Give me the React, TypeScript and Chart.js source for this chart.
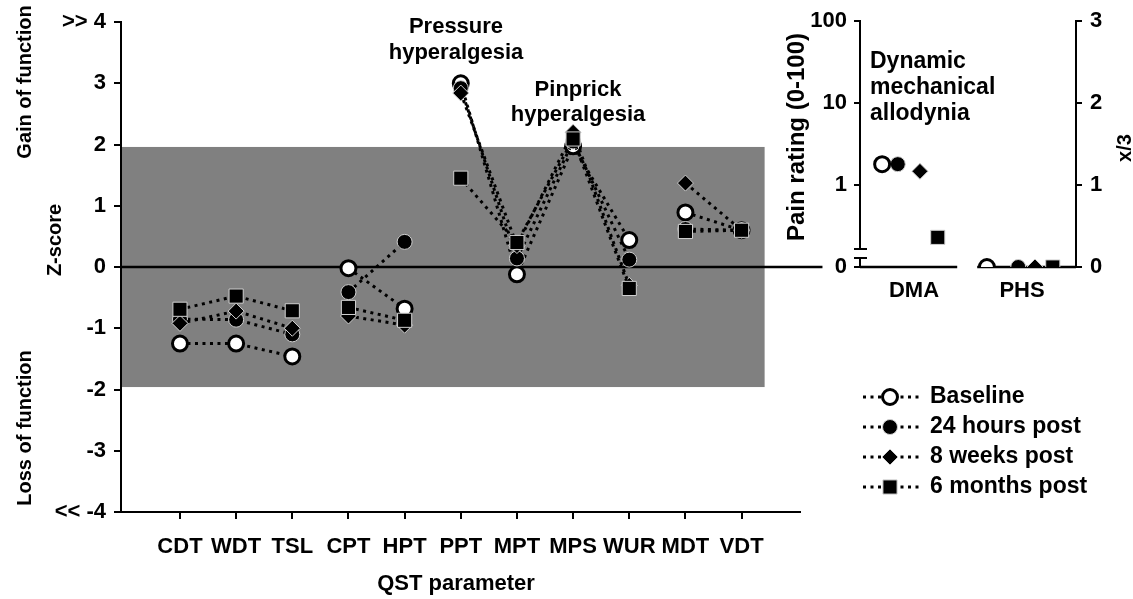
import React, { useEffect, useRef } from 'react';
import { Chart, registerables } from 'chart.js';

Chart.register(...registerables);

// ---------------- data ----------------
const groups = [
  ['CDT', 'WDT', 'TSL'],
  ['CPT', 'HPT'],
  ['PPT', 'MPT', 'MPS', 'WUR'],
  ['MDT', 'VDT'],
];
const categories = groups.flat();

const seriesNames = ['Baseline', '24 hours post', '8 weeks post', '6 months post'];

const baseline = [-1.25, -1.25, -1.46, -0.02, -0.68, 3.0, -0.12, 1.97, 0.44, 0.89, 0.6];
const hours24 = [-0.85, -0.86, -1.1, -0.41, 0.41, 2.92, 0.14, 2.05, 0.12, 0.62, 0.6];
const weeks8 = [-0.92, -0.72, -1.0, -0.8, -0.95, 2.84, 0.35, 2.2, -0.3, 1.37, 0.6];
const months6 = [-0.69, -0.475, -0.715, -0.66, -0.87, 1.45, 0.4, 2.09, -0.35, 0.58, 0.6];
const zSeries = [baseline, hours24, weeks8, months6];

const zTicks = [-4, -3, -2, -1, 0, 1, 2, 3, 4];
const zTickLabels = ['<< -4', '-3', '-2', '-1', '0', '1', '2', '3', '>> 4'];
const normalLimit = 1.96;

const panelCategories = ['DMA', 'PHS'];
const dmaRating = [1.8, 1.8, 1.47, 0.23]; // pain rating (0-100), log axis
const phsRatio = [0, 0, 0, 0]; // x/3
const ratingTicks = [0.1, 1, 10, 100];
const ratingTickLabels = ['0', '1', '10', '100'];
const ratioTicks = [0, 1, 2, 3];

// ---------------- layout / style ----------------
const FONT = "'Liberation Sans', Arial, Helvetica, sans-serif";
const W = 1133;
const H = 599;
const GRAY = '#808080';

const markerStyles = [
  { pointStyle: 'circle', pointRadius: 7.5, pointBackgroundColor: '#fff', pointBorderColor: '#000', pointBorderWidth: 3 },
  { pointStyle: 'circle', pointRadius: 7.5, pointBackgroundColor: '#000', pointBorderColor: '#d0d0d0', pointBorderWidth: 1 },
  { pointStyle: 'rectRot', pointRadius: 8, pointBackgroundColor: '#000', pointBorderColor: '#d0d0d0', pointBorderWidth: 1 },
  { pointStyle: 'rect', pointRadius: 10, pointBackgroundColor: '#000', pointBorderColor: '#d0d0d0', pointBorderWidth: 1 },
];
const dmaOffsets = [-0.59, -0.3, 0.11, 0.44];
const phsOffsets = [-0.65, -0.07, 0.24, 0.57];

Chart.defaults.font.family = FONT;
Chart.defaults.font.size = 22;
Chart.defaults.font.weight = 'bold';
Chart.defaults.color = '#000';

function drawText(ctx: CanvasRenderingContext2D, text: string, x: number, y: number, opts: any = {}) {
  ctx.save();
  ctx.font = `bold ${opts.size || 22}px ${FONT}`;
  ctx.fillStyle = '#000';
  ctx.textAlign = opts.align || 'center';
  ctx.textBaseline = 'middle';
  ctx.translate(x, y);
  if (opts.rotate) ctx.rotate(-Math.PI / 2);
  ctx.fillText(text, 0, 0);
  ctx.restore();
}

function drawMarker(ctx: CanvasRenderingContext2D, style: any, x: number, y: number) {
  const r = style.pointRadius;
  ctx.save();
  ctx.beginPath();
  if (style.pointStyle === 'circle') {
    ctx.arc(x, y, r, 0, Math.PI * 2);
  } else if (style.pointStyle === 'rectRot') {
    ctx.moveTo(x, y - r);
    ctx.lineTo(x + r, y);
    ctx.lineTo(x, y + r);
    ctx.lineTo(x - r, y);
    ctx.closePath();
  } else {
    const s = r * Math.SQRT1_2;
    ctx.rect(x - s, y - s, 2 * s, 2 * s);
  }
  ctx.fillStyle = style.pointBackgroundColor;
  ctx.fill();
  ctx.lineWidth = style.pointBorderWidth;
  ctx.strokeStyle = style.pointBorderColor;
  ctx.stroke();
  ctx.restore();
}

const groupEnds: number[] = [];
{
  let n = 0;
  groups.forEach((g) => {
    n += g.length;
    groupEnds.push(n - 1);
  });
}

function mainConfig(): any {
  const mainPlugin = {
    id: 'mainDecor',
    beforeDraw(chart: any) {
      const { ctx, chartArea, scales } = chart;
      const x = scales.x;
      const y = scales.y;
      ctx.save();
      ctx.fillStyle = GRAY;
      const top = y.getPixelForValue(normalLimit);
      const bot = y.getPixelForValue(-normalLimit);
      const right = x.getPixelForValue(11.41);
      ctx.fillRect(chartArea.left, top, right - chartArea.left, bot - top);
      ctx.strokeStyle = '#000';
      ctx.lineWidth = 2.5;
      ctx.beginPath();
      const y0 = y.getPixelForValue(0);
      ctx.moveTo(chartArea.left, y0);
      ctx.lineTo(x.getPixelForValue(12.44), y0);
      ctx.stroke();
      ctx.restore();
    },
    afterDraw(chart: any) {
      const { ctx } = chart;
      drawText(ctx, 'Gain of function', 25, 82, { rotate: true, size: 20 });
      drawText(ctx, 'Loss of function', 25, 428, { rotate: true, size: 20 });
      drawText(ctx, 'Z-score', 55, 240, { rotate: true, size: 20 });
      drawText(ctx, 'QST parameter', 456, 584);
      drawText(ctx, 'Pressure', 456, 27, { size: 22 });
      drawText(ctx, 'hyperalgesia', 456, 53, { size: 22 });
      drawText(ctx, 'Pinprick', 578, 90, { size: 22 });
      drawText(ctx, 'hyperalgesia', 578, 115, { size: 22 });
    },
  };

  return {
    type: 'line',
    data: {
      datasets: zSeries.map((vals, si) => ({
        label: seriesNames[si],
        data: vals.map((v, i) => ({ x: i + 1, y: v })),
        borderColor: '#000',
        borderWidth: 3,
        borderDash: [3, 4.5],
        fill: false,
        tension: 0,
        order: zSeries.length - si,
        ...markerStyles[si],
        segment: {
          borderColor: (c: any) => (groupEnds.includes(c.p0DataIndex) ? 'rgba(0,0,0,0)' : '#000'),
        },
      })),
    },
    options: {
      animation: false,
      responsive: false,
      events: [],
      layout: { padding: { left: 0, top: 22, right: W - 800, bottom: 0 } },
      plugins: { legend: { display: false }, tooltip: { enabled: false } },
      scales: {
        x: {
          type: 'linear',
          min: -0.05,
          max: 12.04,
          afterBuildTicks: (s: any) => {
            s.ticks = categories.map((_, i) => ({ value: i + 1 }));
          },
          afterFit: (s: any) => {
            s.height = H - 512;
          },
          grid: { display: true, drawOnChartArea: false, drawTicks: true, tickLength: 7, color: '#000', lineWidth: 2 },
          border: { display: true, color: '#000', width: 2 },
          ticks: {
            autoSkip: false,
            maxRotation: 0,
            padding: 15,
            font: { size: 22, weight: 'bold' },
            callback: (v: any) => categories[Math.round(v) - 1] ?? '',
          },
        },
        y: {
          type: 'linear',
          min: -4,
          max: 4,
          afterBuildTicks: (s: any) => {
            s.ticks = zTicks.map((v) => ({ value: v }));
          },
          afterFit: (s: any) => {
            s.width = 121;
          },
          grid: { display: true, drawOnChartArea: false, drawTicks: true, tickLength: 7, color: '#000', lineWidth: 2 },
          border: { display: true, color: '#000', width: 2 },
          ticks: {
            autoSkip: false,
            padding: 8,
            font: { size: 22, weight: 'bold' },
            callback: (_v: any, i: number) => zTickLabels[i],
          },
        },
      },
    },
    plugins: [mainPlugin],
  };
}

function sideConfig(): any {
  const sidePlugin = {
    id: 'sideDecor',
    beforeDraw(chart: any) {
      const { ctx, chartArea, scales } = chart;
      const x = scales.x;
      const y0 = scales.y.getPixelForValue(0.1);
      ctx.save();
      ctx.strokeStyle = '#000';
      ctx.lineWidth = 2.5;
      ctx.beginPath();
      ctx.moveTo(chartArea.left, y0);
      ctx.lineTo(x.getPixelForValue(1.8), y0);
      ctx.moveTo(x.getPixelForValue(2.17), y0);
      ctx.lineTo(chartArea.right, y0);
      ctx.stroke();
      ctx.restore();
    },
    afterDraw(chart: any) {
      const { ctx, chartArea } = chart;
      // axis break
      const bx = chartArea.left;
      ctx.save();
      ctx.fillStyle = '#fff';
      ctx.fillRect(bx - 3, 250, 6, 7);
      ctx.strokeStyle = '#000';
      ctx.lineWidth = 2;
      ctx.beginPath();
      ctx.moveTo(bx - 6, 249);
      ctx.lineTo(bx + 7, 249);
      ctx.moveTo(bx - 6, 258);
      ctx.lineTo(bx + 7, 258);
      ctx.stroke();
      ctx.restore();

      drawText(ctx, 'Pain rating (0-100)', 797, 137, { rotate: true, size: 24 });
      drawText(ctx, 'x/3', 1125, 148, { rotate: true, size: 20 });
      drawText(ctx, 'Dynamic', 870, 62, { align: 'left', size: 23 });
      drawText(ctx, 'mechanical', 870, 88, { align: 'left', size: 23 });
      drawText(ctx, 'allodynia', 870, 114, { align: 'left', size: 23 });

      // legend
      const rows = [397, 427, 457, 487];
      seriesNames.forEach((name, i) => {
        const ry = rows[i];
        ctx.save();
        ctx.strokeStyle = '#000';
        ctx.lineWidth = 3;
        ctx.setLineDash([3, 4.5]);
        ctx.beginPath();
        ctx.moveTo(863, ry);
        ctx.lineTo(920, ry);
        ctx.stroke();
        ctx.restore();
        drawMarker(ctx, markerStyles[i], 890, ry);
        drawText(ctx, name, 930, ry, { align: 'left', size: 23 });
      });
    },
  };

  const dmaSets = dmaRating.map((v, si) => ({
    label: seriesNames[si] + ' DMA',
    data: [{ x: 1 + dmaOffsets[si], y: v }],
    yAxisID: 'y',
    showLine: false,
    ...markerStyles[si],
  }));
  const phsSets = phsRatio.map((v, si) => ({
    label: seriesNames[si] + ' PHS',
    data: [{ x: 3 + phsOffsets[si], y: v }],
    yAxisID: 'y2',
    showLine: false,
    ...markerStyles[si],
  }));

  const axisGrid = { display: true, drawOnChartArea: false, drawTicks: true, tickLength: 6, color: '#000', lineWidth: 2 };

  return {
    type: 'scatter',
    data: { datasets: [...dmaSets, ...phsSets] },
    options: {
      animation: false,
      responsive: false,
      events: [],
      layout: { padding: { left: 760, top: 18, right: 0, bottom: 0 } },
      plugins: { legend: { display: false }, tooltip: { enabled: false } },
      scales: {
        x: {
          type: 'linear',
          min: 0,
          max: 4,
          afterBuildTicks: (s: any) => {
            s.ticks = panelCategories.map((_, i) => ({ value: 1 + 2 * i }));
          },
          afterFit: (s: any) => {
            s.height = H - 267;
          },
          grid: { display: false, drawTicks: false },
          border: { display: false },
          ticks: {
            autoSkip: false,
            maxRotation: 0,
            padding: 11,
            callback: (_v: any, i: number) => panelCategories[i],
          },
        },
        y: {
          type: 'logarithmic',
          position: 'left',
          min: 0.1,
          max: 100,
          afterBuildTicks: (s: any) => {
            s.ticks = ratingTicks.map((v) => ({ value: v }));
          },
          afterFit: (s: any) => {
            s.width = 100;
          },
          grid: axisGrid,
          border: { display: true, color: '#000', width: 2 },
          ticks: {
            autoSkip: false,
            padding: 7,
            callback: (_v: any, i: number) => ratingTickLabels[i],
          },
        },
        y2: {
          type: 'linear',
          position: 'right',
          min: 0,
          max: 3,
          afterBuildTicks: (s: any) => {
            s.ticks = ratioTicks.map((v) => ({ value: v }));
          },
          afterFit: (s: any) => {
            s.width = W - 1076;
          },
          grid: axisGrid,
          border: { display: true, color: '#000', width: 2 },
          ticks: {
            autoSkip: false,
            padding: 8,
            callback: (_v: any, i: number) => String(ratioTicks[i]),
          },
        },
      },
    },
    plugins: [sidePlugin],
  };
}

export default function App() {
  const mainRef = useRef<HTMLCanvasElement>(null);
  const sideRef = useRef<HTMLCanvasElement>(null);

  useEffect(() => {
    const c1 = new Chart(mainRef.current as HTMLCanvasElement, mainConfig());
    const c2 = new Chart(sideRef.current as HTMLCanvasElement, sideConfig());
    return () => {
      c1.destroy();
      c2.destroy();
    };
  }, []);

  return (
    <div style={{ position: 'absolute', left: 0, top: 0, width: W, height: H, background: '#fff', overflow: 'hidden' }}>
      <canvas ref={mainRef} width={W} height={H} style={{ position: 'absolute', left: 0, top: 0 }} />
      <canvas ref={sideRef} width={W} height={H} style={{ position: 'absolute', left: 0, top: 0 }} />
    </div>
  );
}
